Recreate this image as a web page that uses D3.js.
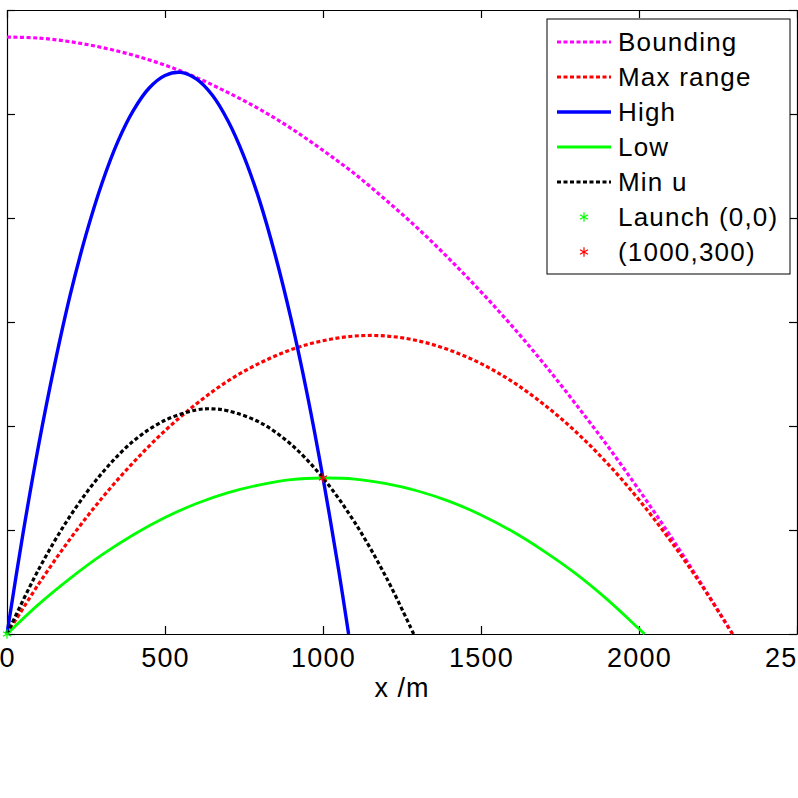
<!DOCTYPE html>
<html>
<head>
<meta charset="utf-8">
<script src="https://cdn.jsdelivr.net/npm/d3@7"></script>
<style>
  body { margin: 0; background: #fff; }
  text { font-family: "Liberation Sans", Arial, sans-serif; }
</style>
</head>
<body>
<div class="canvas"></div>
<script>
// trajectories, [x (m), y (m)]
const bounding = [[0,1148],[100,1146],[200,1139],[300,1128],[400,1113],[500,1094],[600,1070],[700,1041],
  [800,1009],[900,972],[1000,930],[1100,885],[1200,834],[1300,780],[1400,721],[1500,658],[1600,591],
  [1700,519],[1800,442],[1900,362],[2000,277],[2100,188],[2200,94],[2296,0]];
const maxRange = [[0,0],[100,96],[200,183],[300,261],[400,330],[500,391],[600,443],[700,487],[800,521],
  [900,547],[1000,564],[1100,573],[1200,573],[1300,564],[1400,546],[1500,520],[1600,485],[1700,441],
  [1800,389],[1900,328],[2000,258],[2100,179],[2200,92],[2296,0]];
const high = [[0,0],[50,191],[100,363],[150,516],[200,652],[250,768],[300,866],[350,946],[400,1007],
  [450,1050],[500,1074],[550,1080],[600,1067],[650,1036],[700,986],[750,918],[800,832],[850,726],
  [900,603],[950,461],[1000,300],[1050,121],[1081,0]];
const low = [[0,0],[100,57],[200,107],[300,152],[400,191],[500,224],[600,251],[700,272],[800,287],
  [900,297],[1000,300],[1100,298],[1200,289],[1300,275],[1400,255],[1500,229],[1600,197],[1700,159],
  [1800,116],[1900,66],[2000,10],[2018,0]];
const minU = [[0,0],[100,124],[200,227],[300,309],[400,371],[500,411],[600,431],[650,433],[700,429],
  [800,407],[900,364],[1000,300],[1100,215],[1200,109],[1287,0]];
const launch = [0, 0];
const target = [1000, 300];

const xTicks = [0, 500, 1000, 1500, 2000, 2500];
const yTicks = [0, 200, 400, 600, 800, 1000, 1200];
const legendLabels = ['Bounding', 'Max range', 'High', 'Low', 'Min u', 'Launch (0,0)', '(1000,300)'];

// plot box
const W = 798, H = 798;
const box = { left: 7, right: 797, top: 10, bottom: 634 };

const svg = d3.select('.canvas').append('svg')
  .attr('width', W)
  .attr('height', H);

const xScale = d3.scaleLinear().domain([0, 2500]).range([box.left, box.right]);
const yScale = d3.scaleLinear().domain([0, 1200]).range([box.bottom, box.top]);

// axes, ticks pointing in
svg.append('g')
  .attr('transform', `translate(0,${box.bottom})`)
  .call(d3.axisBottom(xScale).tickValues(xTicks).tickFormat(d3.format('d'))
    .tickSizeInner(-8).tickSizeOuter(0).tickPadding(14))
  .call(g => g.selectAll('text')
    .attr('font-size', 27)
    .attr('letter-spacing', 1.2)
    .attr('fill', '#000')
    .attr('font-family', '"Liberation Sans", Arial, sans-serif'));
svg.append('g')
  .attr('transform', `translate(0,${box.top})`)
  .call(d3.axisTop(xScale).tickValues(xTicks).tickSizeInner(-8).tickSizeOuter(0).tickFormat(''));
svg.append('g')
  .attr('transform', `translate(${box.left},0)`)
  .call(d3.axisLeft(yScale).tickValues(yTicks).tickSizeInner(-8).tickSizeOuter(0).tickFormat(''));
svg.append('g')
  .attr('transform', `translate(${box.right},0)`)
  .call(d3.axisRight(yScale).tickValues(yTicks).tickSizeInner(-8).tickSizeOuter(0).tickFormat(''));
svg.selectAll('.domain, .tick line').attr('stroke', '#000').attr('stroke-width', 1.2);

svg.append('text')
  .attr('x', 402).attr('y', 697)
  .attr('text-anchor', 'middle')
  .attr('font-size', 27)
  .attr('letter-spacing', 1)
  .text('x /m');

const line = d3.line()
  .x(d => xScale(d[0]))
  .y(d => yScale(d[1]))
  .curve(d3.curveCatmullRom);

const series = [
  { data: bounding, color: '#ff00ff', width: 3.2, dash: '4,2.5' },
  { data: maxRange, color: '#ff0000', width: 3.2, dash: '4,2.5' },
  { data: high, color: '#0000ff', width: 3.4, dash: null },
  { data: low, color: '#00ff00', width: 2.8, dash: null },
  { data: minU, color: '#000000', width: 3.2, dash: '4,2.5' }
];

svg.append('g').selectAll('path')
  .data(series)
  .enter()
  .append('path')
  .attr('d', d => line(d.data))
  .attr('fill', 'none')
  .attr('stroke', d => d.color)
  .attr('stroke-width', d => d.width)
  .attr('stroke-dasharray', d => d.dash);

const star = d3.symbol().type(d3.symbolAsterisk).size(60);
const markers = [
  { p: launch, color: '#00ff00' },
  { p: target, color: '#ff0000' }
];
svg.append('g').selectAll('path')
  .data(markers)
  .enter()
  .append('path')
  .attr('d', star)
  .attr('transform', d => `translate(${xScale(d.p[0])},${yScale(d.p[1])})`)
  .attr('fill', 'none')
  .attr('stroke', d => d.color)
  .attr('stroke-width', 1.2);

// legend
const legend = svg.append('g');
legend.append('rect')
  .attr('x', 547).attr('y', 19)
  .attr('width', 243).attr('height', 255)
  .attr('fill', '#fff')
  .attr('stroke', '#000')
  .attr('stroke-width', 1);

const items = series.map(d => ({ type: 'line', ...d }))
  .concat(markers.map(d => ({ type: 'mark', ...d })));

items.forEach((d, i) => {
  const base = 51 + i * 35;
  if (d.type === 'line') {
    legend.append('line')
      .attr('x1', 557).attr('x2', 611)
      .attr('y1', base - 9).attr('y2', base - 9)
      .attr('stroke', d.color)
      .attr('stroke-width', d.width)
      .attr('stroke-dasharray', d.dash);
  } else {
    legend.append('path')
      .attr('d', star)
      .attr('transform', `translate(584,${base - 9})`)
      .attr('fill', 'none')
      .attr('stroke', d.color)
      .attr('stroke-width', 1.2);
  }
  legend.append('text')
    .attr('x', 618).attr('y', base)
    .attr('font-size', 26)
    .attr('letter-spacing', 1.2)
    .text(legendLabels[i]);
});
</script>
</body>
</html>
